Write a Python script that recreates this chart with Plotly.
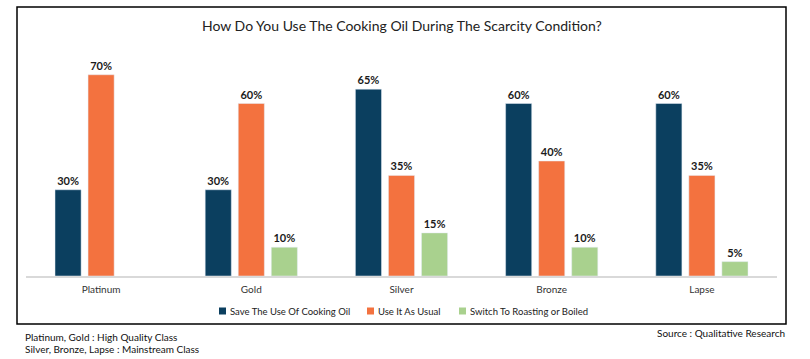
import plotly.graph_objects as go

categories = ["Platinum", "Gold", "Silver", "Bronze", "Lapse"]
save_use = [30, 30, 65, 60, 60]
use_usual = [70, 60, 35, 40, 35]
switch_roast = [None, 10, 15, 10, 5]
series_names = ["Save The Use Of Cooking Oil", "Use It As Usual", "Switch To Roasting or Boiled"]
colors = ["#0B3F5F", "#F3723F", "#A9D18E"]

FONT = "Lato"
fig = go.Figure()
for name, vals, col in zip(series_names, [save_use, use_usual, switch_roast], colors):
    fig.add_trace(go.Bar(
        x=categories, y=vals, name=name, marker_color=col,
        texttemplate="%{y}%", textposition="outside", cliponaxis=False,
        textfont=dict(family=FONT, size=11, color="#1a1a1a", weight="bold"),
    ))

L, R, T, B = 26, 33, 46, 83
W, H = 810, 359
pw, ph = W - L - R, H - T - B
def px(x):
    return (x - L) / pw
def py(y):
    return (H - B - y) / ph

shapes = [dict(type="rect", xref="paper", yref="paper",
               x0=px(17), x1=px(786), y0=py(7), y1=py(324),
               line=dict(color="black", width=1.5), fillcolor="rgba(0,0,0,0)")]
annotations = [
    dict(text="How Do You Use The Cooking Oil During The Scarcity Condition?",
         xref="paper", yref="paper", x=px(402), y=py(25), xanchor="center", yanchor="middle",
         showarrow=False, font=dict(family=FONT, size=14, color="#222")),
    dict(text="Platinum, Gold : High Quality Class", xref="paper", yref="paper",
         x=px(23), y=py(337), xanchor="left", yanchor="middle", showarrow=False,
         font=dict(family=FONT, size=10, color="#111")),
    dict(text="Silver, Bronze, Lapse : Mainstream Class", xref="paper", yref="paper",
         x=px(23), y=py(349), xanchor="left", yanchor="middle", showarrow=False,
         font=dict(family=FONT, size=10, color="#111")),
    dict(text="Source : Qualitative Research", xref="paper", yref="paper",
         x=px(787), y=py(333), xanchor="right", yanchor="middle", showarrow=False,
         font=dict(family=FONT, size=10, color="#111")),
]
# compact legend (square swatch + label) as in the reference
legend_x = [219, 367, 459]
for lx, name, col in zip(legend_x, series_names, colors):
    shapes.append(dict(type="rect", xref="paper", yref="paper",
                       x0=px(lx), x1=px(lx + 7), y0=py(314.5), y1=py(307.5),
                       line=dict(width=0), fillcolor=col))
    annotations.append(dict(text=name, xref="paper", yref="paper",
                            x=px(lx + 9), y=py(311), xanchor="left", yanchor="middle",
                            showarrow=False, font=dict(family=FONT, size=9.5, color="#222")))

fig.update_layout(
    width=W, height=H, margin=dict(l=L, r=R, t=T, b=B),
    paper_bgcolor="white", plot_bgcolor="white",
    barmode="group", bargap=0.34, bargroupgap=0.21,
    font=dict(family=FONT, size=10, color="#222"),
    showlegend=False,
    xaxis=dict(showline=True, linecolor="#D9D9D9", linewidth=1.5, ticks="",
               ticklabelstandoff=3,
               tickfont=dict(family=FONT, size=10, color="#333"), showgrid=False),
    yaxis=dict(range=[0, 80], visible=False, showgrid=False),
    shapes=shapes,
    annotations=annotations,
)
fig.write_html("out.html", config={"displayModeBar": False},
               post_script="document.body.style.margin='0';")
